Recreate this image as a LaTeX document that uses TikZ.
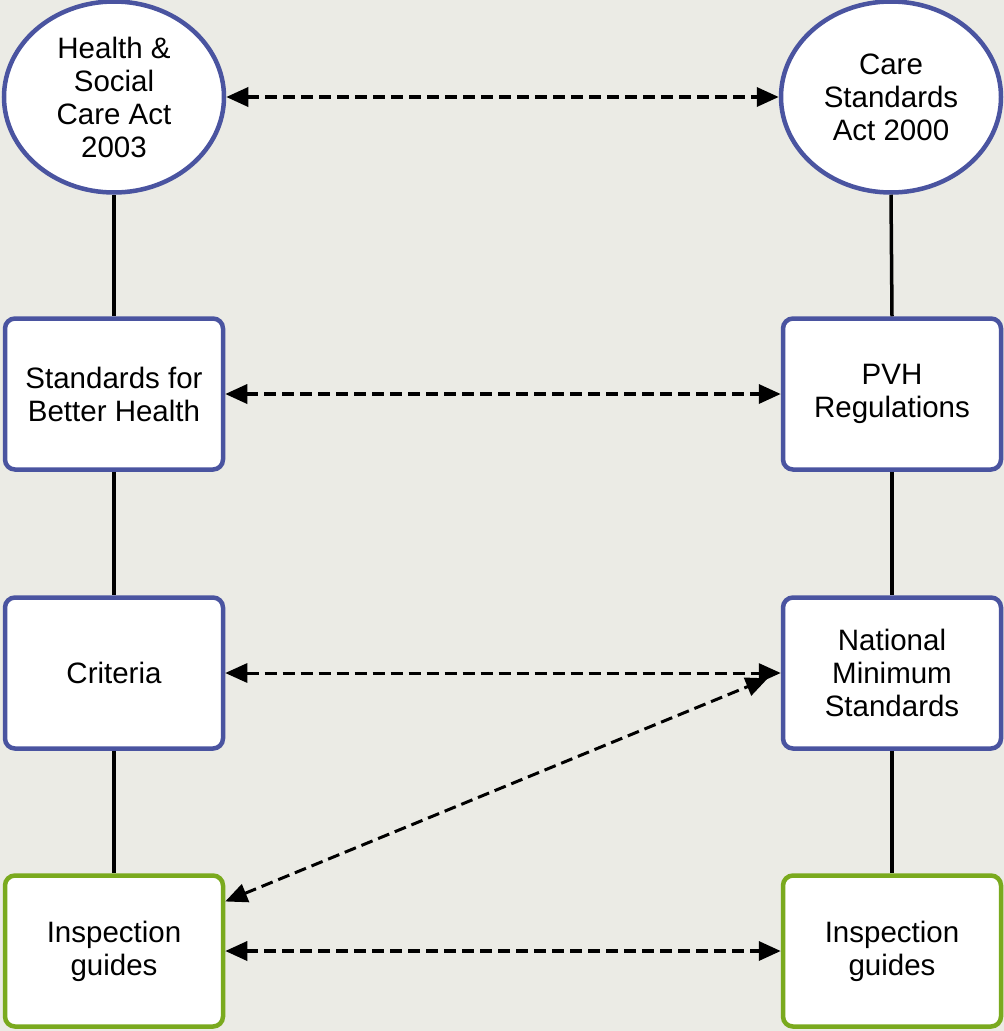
\documentclass[tikz,border=0pt]{standalone}
\usepackage{fontspec}
\setmainfont{Liberation Sans}
\usetikzlibrary{shapes.geometric,arrows.meta}
\definecolor{bgc}{RGB}{235,235,229}
\definecolor{bluec}{RGB}{74,84,160}
\definecolor{greenc}{RGB}{122,170,30}
\tikzset{
  base/.style={fill=white, line width=4.5pt, align=center, inner sep=0pt,
    font=\fontsize{29.5}{33}\selectfont},
  actnode/.style={base, ellipse, draw=bluec, minimum width=220pt, minimum height=191pt},
  bluebox/.style={base, rectangle, rounded corners=10pt, draw=bluec, minimum width=218pt, minimum height=151pt},
  greenbox/.style={base, rectangle, rounded corners=10pt, draw=greenc, minimum width=218pt, minimum height=151pt},
  conn/.style={line width=3.5pt, black},
  link/.style={line width=3.5pt, dash pattern=on 12pt off 6pt,
    {Triangle[length=22pt,width=19pt]}-{Triangle[length=22pt,width=19pt]}},
  thinlink/.style={link, line width=3pt}
}
\begin{document}
\begin{tikzpicture}[x=1pt,y=-1pt]
\fill[bgc] (0,0) rectangle (1004,1031);
\useasboundingbox (0,0) rectangle (1004,1031);
% nodes
\node[actnode] (hsc) at (114,97) {Health \&\\Social\\Care Act\\2003};
\node[actnode] (csa) at (891,97) {Care\\Standards\\Act 2000};
\node[bluebox] (sbh) at (114,394) {Standards for\\Better Health};
\node[bluebox] (pvh) at (892,394) {PVH\\Regulations};
\node[bluebox] (crit) at (114,673) {Criteria};
\node[bluebox] (nms) at (892,673) {National\\Minimum\\Standards};
\node[greenbox] (insl) at (114,951) {Inspection\\guides};
\node[greenbox] (insr) at (892,951) {Inspection\\guides};
% vertical connectors
\draw[conn] (hsc.south) -- (sbh.north);
\draw[conn] (sbh.south) -- (crit.north);
\draw[conn] (crit.south) -- (insl.north);
\draw[conn] (csa.south) -- (pvh.north);
\draw[conn] (pvh.south) -- (nms.north);
\draw[conn] (nms.south) -- (insr.north);
% dashed links
\draw[link] (hsc.east) -- (csa.west);
\draw[link] (sbh.east) -- (pvh.west);
\draw[thinlink] (crit.east) -- (nms.west);
\draw[thinlink, shorten >=14pt] (insl.24) -- (nms.west);
\draw[link] (insl.east) -- (insr.west);
\end{tikzpicture}
\end{document}
